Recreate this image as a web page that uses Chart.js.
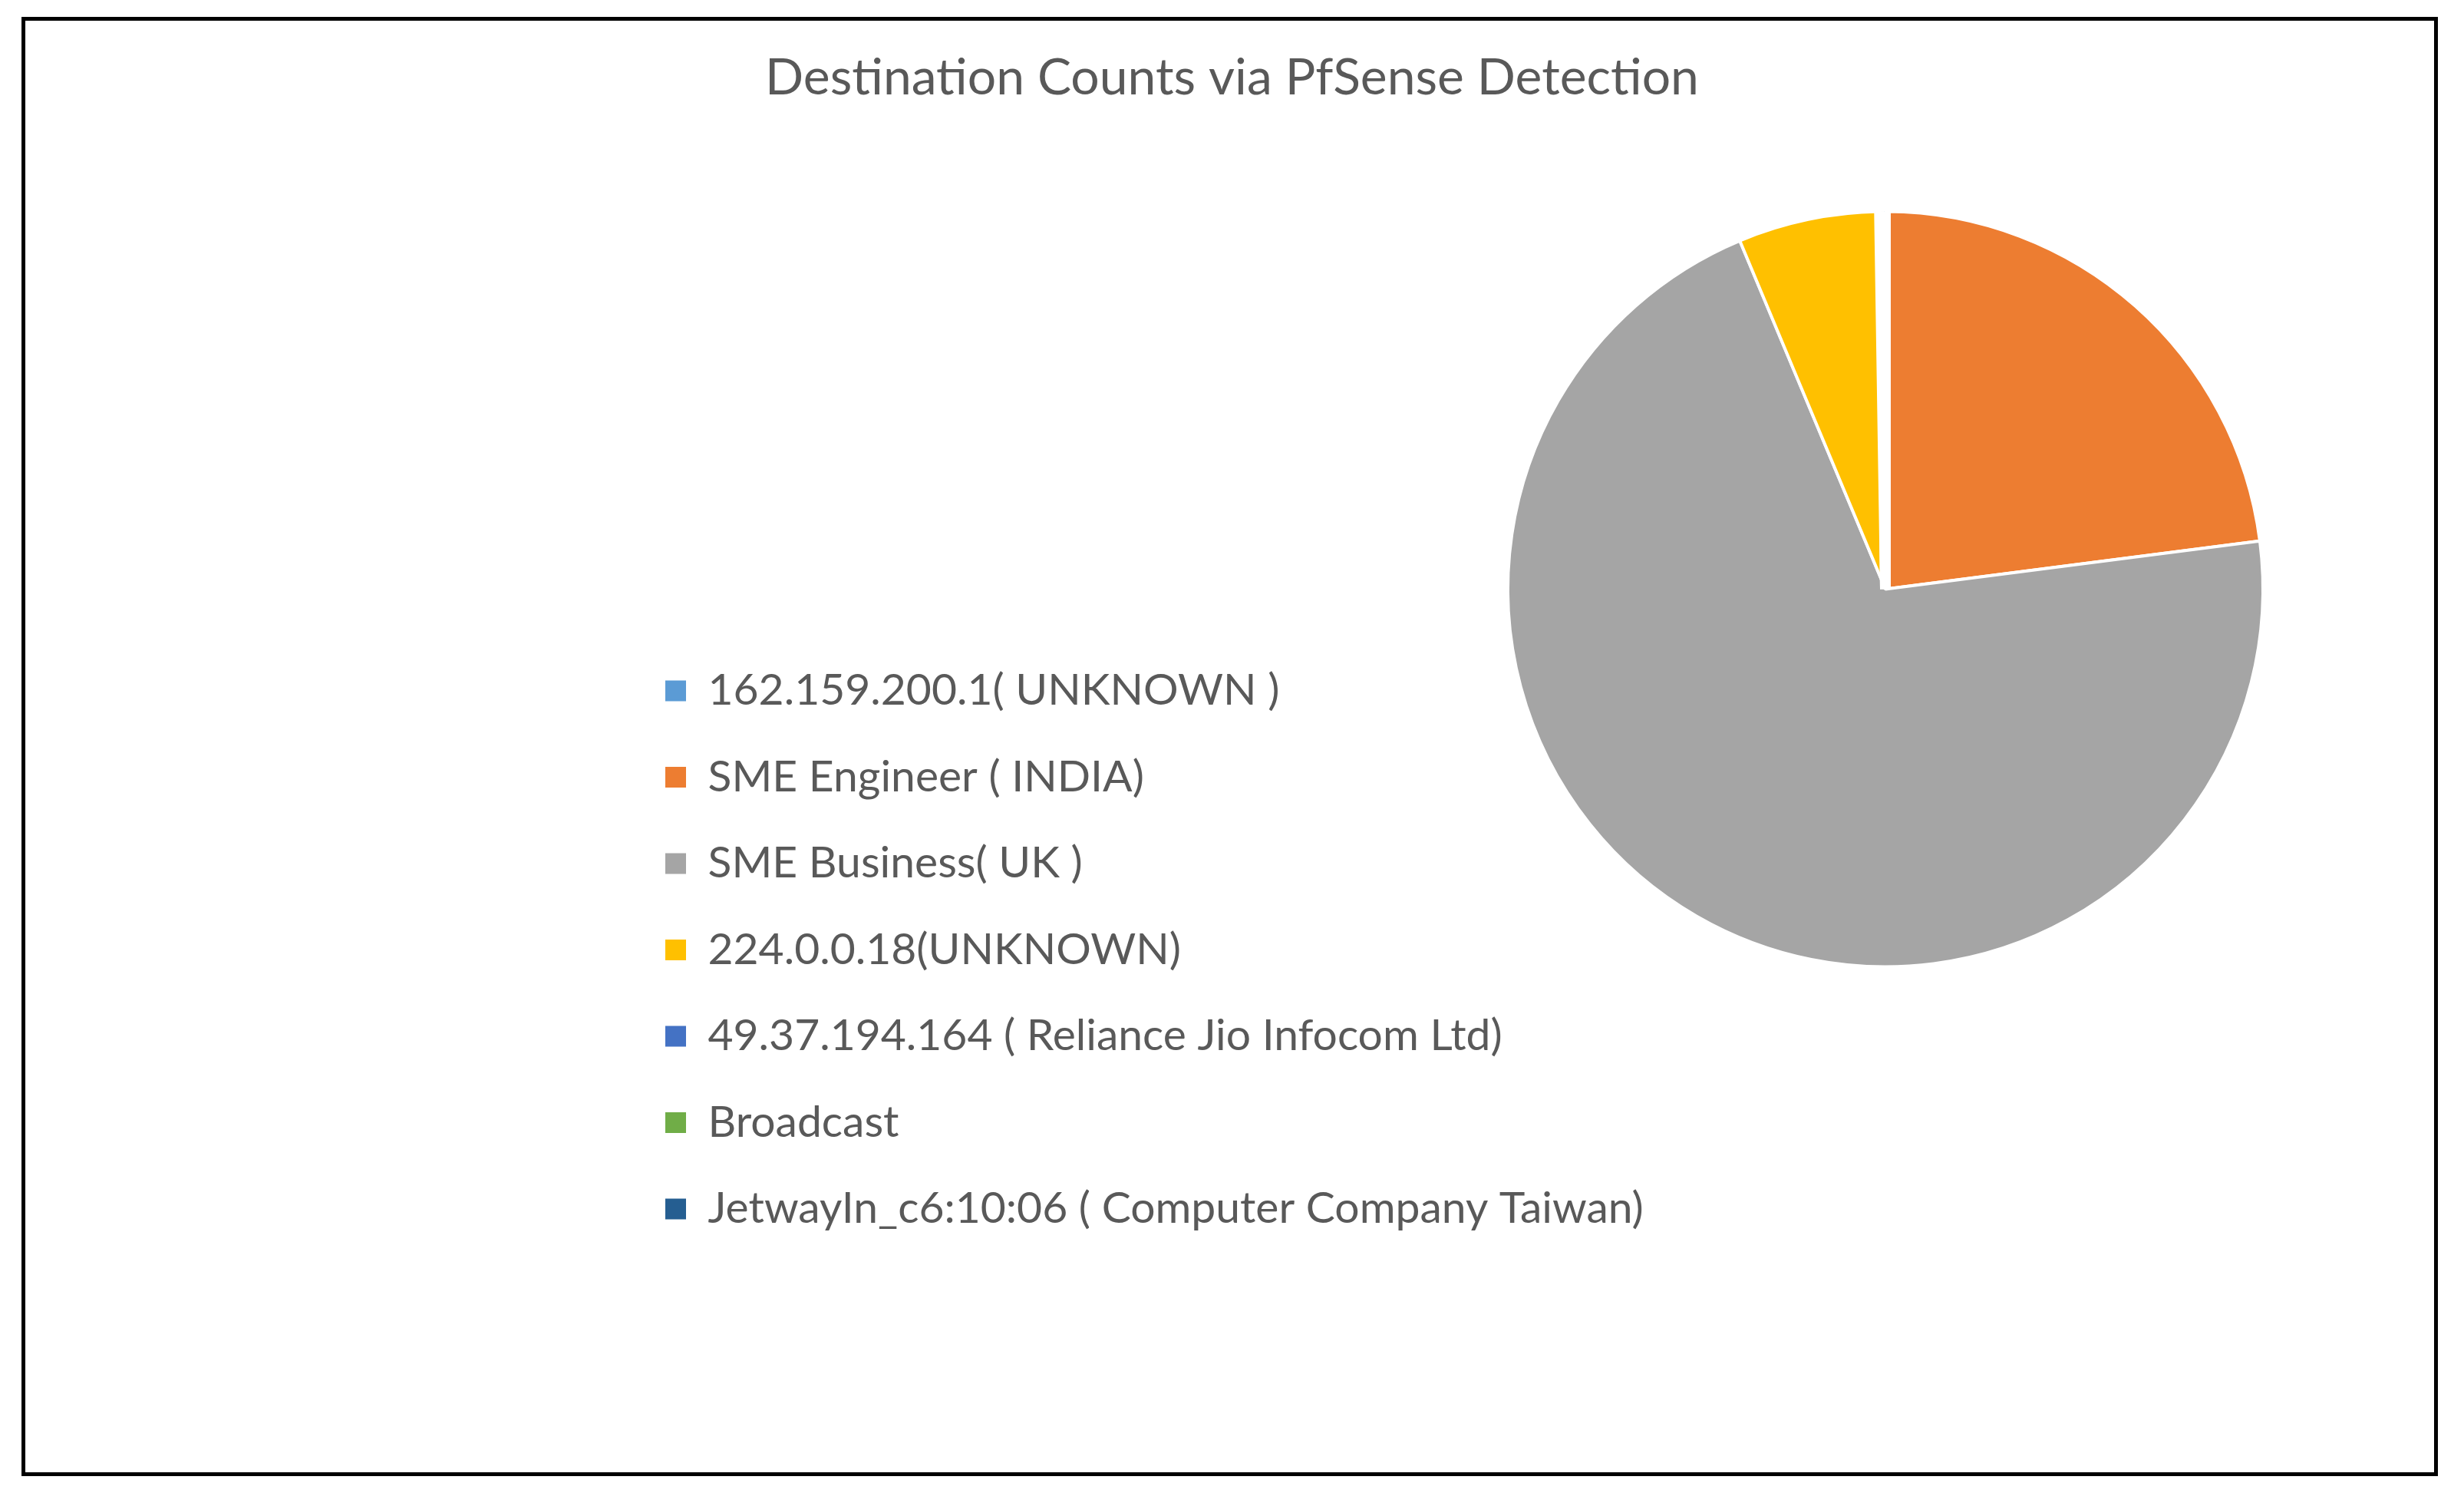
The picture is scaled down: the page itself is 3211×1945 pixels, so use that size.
<!DOCTYPE html>
<html>
<head>
<meta charset="utf-8">
<script src="https://cdn.jsdelivr.net/npm/chart.js@4"></script>
<style>
    html, body { margin: 0; padding: 0; background: #ffffff; }
    #wrap { position: relative; width: 3211px; height: 1945px; }
    #frame {
        position: absolute; left: 28px; top: 22px; width: 3149px; height: 1901px;
        border: 5px solid #000000; box-sizing: border-box; pointer-events: none;
    }
</style>
</head>
<body>
<div id="wrap">
    <canvas id="destChart" width="3211" height="1945"></canvas>
    <div id="frame"></div>
</div>
<script>
var chartTitle = "Destination Counts via PfSense Detection";
var labels = [
    "162.159.200.1( UNKNOWN )",
    "SME Engineer ( INDIA)",
    "SME Business( UK )",
    "224.0.0.18(UNKNOWN)",
    "49.37.194.164 ( Reliance Jio Infocom Ltd)",
    "Broadcast",
    "JetwayIn_c6:10:06 ( Computer Company Taiwan)"
];
var counts = [1, 458, 1414, 121, 2, 2, 1];

var sliceColors = ["#5B9BD5", "#ED7D31", "#A5A5A5", "#FFC000", "#4472C4", "#70AD47", "#255E91"];
// the tiny slices show up only as a white gap at 12 o'clock
var sliceBorders = [14, 4, 4, 4, 14, 14, 14];

var textColor = "#595959";
var fontFamily = "Lato, 'Open Sans', sans-serif";

// legend sits below-left of the pie, not where chart.js would put it
var legendSpot = {
    id: 'legendSpot',
    afterLayout: function(chart) {
        var lg = chart.legend;
        var pad = lg.options.labels.padding;
        var size = lg.options.labels.font.size;
        lg.left = 867 - pad;
        lg.right = lg.left + 1400;
        lg.top = 900 - pad - size / 2;
        lg.bottom = lg.top + 1000;
        lg.width = 1400;
        lg.height = 1000;

        var t = chart.titleBlock;
        t.left = 0;
        t.right = chart.width;
        t.width = chart.width;
    }
};

var data = {
    labels: labels,
    datasets: [{
        data: counts,
        backgroundColor: sliceColors,
        borderColor: "#ffffff",
        borderWidth: sliceBorders
    }]
};

var options = {
    responsive: false,
    animation: false,
    radius: 492,
    layout: {
        padding: { left: 1722, right: 20, top: 62.4, bottom: 551.6 }
    },
    plugins: {
        title: {
            display: true,
            text: chartTitle,
            color: textColor,
            font: { family: fontFamily, size: 66, weight: 'normal', lineHeight: 1.2 },
            padding: 0
        },
        legend: {
            display: true,
            position: 'left',
            align: 'start',
            maxWidth: 1,
            labels: {
                boxWidth: 27,
                boxHeight: 27,
                padding: 55.5,
                color: textColor,
                font: { family: fontFamily, size: 57 },
                generateLabels: function(chart) {
                    return chart.data.labels.map(function(label, i) {
                        return {
                            text: label,
                            fillStyle: sliceColors[i],
                            strokeStyle: sliceColors[i],
                            lineWidth: 0,
                            fontColor: textColor,
                            hidden: false,
                            index: i
                        };
                    });
                }
            }
        },
        tooltip: { enabled: false }
    }
};

var destChart = new Chart(document.getElementById('destChart'), {
    type: 'pie',
    data: data,
    options: options,
    plugins: [legendSpot]
});
</script>
</body>
</html>
